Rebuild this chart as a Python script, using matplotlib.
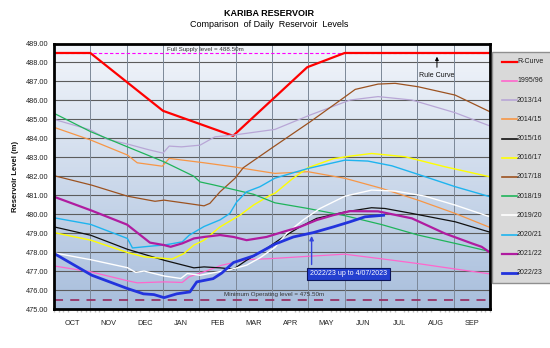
import numpy as np
import matplotlib
matplotlib.use("Agg")
import matplotlib.pyplot as plt
from matplotlib.colors import LinearSegmentedColormap
from matplotlib.lines import Line2D
from matplotlib.patches import Rectangle
from matplotlib.ticker import MultipleLocator

plt.rcParams["font.family"] = ["Liberation Sans", "DejaVu Sans"]

# Hydrological year runs October -> September; positions are in months from 1 October
month_labels = ["OCT", "NOV", "DEC", "JAN", "FEB", "MAR",
                "APR", "MAY", "JUN", "JUL", "AUG", "SEP"]
level_ticks = list(range(475, 490))

full_supply_level = 488.50
min_operating_level = 475.50

r_curve_month = [0, 1.0, 3.0, 4.93, 6.97, 8.0, 12.0]
r_curve_level = [488.5, 488.5, 485.45, 484.13, 487.75, 488.5, 488.5]

y1995_month = [0, 1.01, 2.0, 2.29, 3.03, 3.53, 3.72, 4.13, 4.6, 5.3, 6.08, 7.0,
               8.0, 9.0, 10.0, 11.0, 12.0]
y1995_level = [477.27, 476.96, 476.5, 476.38, 476.43, 476.4, 476.7, 476.96, 477.3,
               477.6, 477.67, 477.78, 477.89, 477.65, 477.4, 477.12, 476.85]

y2013_month = [0, 1.01, 1.47, 2.02, 2.6, 3.0, 3.17, 3.51, 4.02, 4.43, 4.94, 6.08,
               7.05, 8.15, 8.92, 9.85, 11.04, 12.0]
y2013_level = [485.0, 484.44, 483.94, 483.70, 483.4, 483.22, 483.59, 483.55, 483.64,
               484.08, 484.17, 484.47, 485.23, 486.02, 486.2, 486.02, 485.35, 484.65]

y2014_month = [0, 1.01, 2.02, 2.29, 2.98, 3.17, 4.13, 4.93, 6.08, 6.99, 8.01, 9.02,
               10.02, 11.04, 12.0]
y2014_level = [484.58, 483.91, 483.12, 482.71, 482.53, 482.94, 482.71, 482.5, 482.15,
               482.24, 481.89, 481.36, 480.74, 480.04, 479.3]

y2015_month = [0, 1.01, 2.02, 3.03, 3.85, 4.13, 4.57, 4.94, 5.30, 5.85, 6.31, 6.77,
               7.23, 8.01, 8.74, 9.11, 9.85, 11.04, 12.0]
y2015_level = [479.33, 478.89, 478.15, 477.57, 477.17, 477.22, 477.17, 477.1, 477.57,
               478.19, 478.8, 479.33, 479.78, 480.12, 480.34, 480.3, 480.04, 479.6, 479.05]

y2016_month = [0, 1.01, 2.02, 2.48, 3.03, 3.25, 3.58, 3.85, 4.13, 4.57, 5.12, 5.49,
               5.95, 6.08, 6.55, 6.99, 7.68, 8.15, 8.74, 9.66, 10.76, 12.0]
y2016_level = [479.03, 478.63, 477.98, 477.75, 477.67, 477.63, 477.93, 478.37, 478.63,
               479.33, 479.95, 480.48, 481.0, 481.1, 481.85, 482.45, 482.92, 483.06,
               483.2, 483.03, 482.5, 481.97]

y2017_month = [0, 1.04, 2.02, 2.78, 3.03, 3.66, 4.13, 4.29, 4.57, 4.98, 5.21, 6.04,
               7.05, 8.01, 8.29, 8.92, 9.39, 10.02, 11.04, 12.0]
y2017_level = [482.03, 481.53, 480.95, 480.68, 480.74, 480.57, 480.44, 480.57, 481.18,
               481.89, 482.45, 483.55, 484.87, 486.19, 486.58, 486.86, 486.9, 486.72,
               486.28, 485.4]

y2018_month = [0, 1.01, 2.02, 3.03, 3.85, 4.02, 4.38, 4.94, 5.49, 6.08, 6.99, 8.01,
               9.02, 10.02, 11.04, 12.0]
y2018_level = [485.32, 484.35, 483.55, 482.76, 482.0, 481.7, 481.55, 481.3, 481.05,
               480.6, 480.3, 479.92, 479.45, 478.9, 478.46, 478.03]

y2019_month = [0, 1.01, 2.02, 2.25, 2.48, 3.03, 3.49, 3.67, 4.02, 4.84, 5.30, 5.67,
               6.08, 6.41, 6.86, 7.32, 8.01, 8.74, 9.39, 10.21, 11.04, 12.0]
y2019_level = [477.96, 477.6, 477.18, 476.93, 477.0, 476.74, 476.61, 476.87, 476.78,
               477.07, 477.31, 477.7, 478.25, 479.0, 479.7, 480.3, 480.95, 481.27,
               481.22, 480.95, 480.48, 479.86]

y2020_month = [0, 1.01, 2.02, 2.16, 2.75, 3.03, 3.53, 3.72, 4.13, 4.57, 4.84, 5.03,
               5.30, 5.67, 6.08, 6.99, 8.01, 8.64, 9.30, 10.02, 11.04, 12.0]
y2020_level = [479.81, 479.46, 478.72, 478.22, 478.33, 478.37, 478.54, 478.89, 479.35,
               479.7, 480.04, 480.65, 481.18, 481.45, 481.9, 482.41, 482.85, 482.8,
               482.55, 482.1, 481.45, 480.92]

y2021_month = [0, 1.02, 2.01, 2.64, 3.03, 3.21, 3.53, 3.85, 4.13, 4.57, 4.94, 5.30,
               5.85, 6.31, 6.77, 7.23, 7.69, 8.15, 8.92, 9.85, 10.76, 11.50, 11.77, 12.0]
y2021_level = [480.92, 480.2, 479.45, 478.5, 478.37, 478.28, 478.46, 478.72, 478.8,
               478.9, 478.8, 478.63, 478.8, 479.07, 479.33, 479.69, 479.95, 480.16,
               480.15, 479.78, 478.98, 478.46, 478.28, 477.98]

y2022_month = [0, 1.04, 2.02, 2.46, 2.75, 3.03, 3.38, 3.74, 3.93, 4.38, 4.62, 4.94,
               5.49, 6.08, 6.59, 7.14, 7.69, 8.15, 8.56, 9.11]
y2022_level = [477.93, 476.78, 476.08, 475.8, 475.76, 475.6, 475.8, 475.9, 476.43,
               476.6, 476.9, 477.45, 477.8, 478.42, 478.8, 479.03, 479.33, 479.6,
               479.86, 479.95]

series = [
    ("R-Curve", r_curve_month, r_curve_level, "#ff0000", 1.6),
    ("1995/96", y1995_month, y1995_level, "#ff66cc", 0.9),
    ("2013/14", y2013_month, y2013_level, "#b8a6d6", 0.9),
    ("2014/15", y2014_month, y2014_level, "#f79646", 0.9),
    ("2015/16", y2015_month, y2015_level, "#111111", 0.9),
    ("2016/17", y2016_month, y2016_level, "#ffff00", 1.0),
    ("2017/18", y2017_month, y2017_level, "#9c5220", 0.9),
    ("2018/19", y2018_month, y2018_level, "#1fb45a", 0.9),
    ("2019/20", y2019_month, y2019_level, "#ffffff", 1.0),
    ("2020/21", y2020_month, y2020_level, "#1eb4ef", 1.0),
    ("2021/22", y2021_month, y2021_level, "#b01ca0", 1.6),
    ("2022/23", y2022_month, y2022_level, "#2233dd", 2.0),
]

fig = plt.figure(figsize=(5.5, 3.48), dpi=100)
ax = fig.add_axes([54 / 550, 1 - 309 / 348, 436 / 550, (309 - 43.5) / 348])

# Plot area background: pale at the top, blue-grey at the bottom
bg = LinearSegmentedColormap.from_list("bg", ["#a8bedc", "#f3f6fb"])
grad = np.linspace(0, 1, 256).reshape(-1, 1)
ax.imshow(grad, extent=[0, 12, 475, 489], origin="lower", aspect="auto",
          cmap=bg, zorder=0)

ax.set_xlim(0, 12)
ax.set_ylim(475, 489)

for lv in level_ticks:
    ax.axhline(lv, color="#5c5c5c", lw=0.8, zorder=1)
for m in range(1, 12):
    ax.axvline(m, color="#7c8898", lw=0.7, zorder=1)

ax.axhline(full_supply_level, color="#ff00ff", lw=0.8, ls=(0, (3, 2)), zorder=2)
ax.axhline(min_operating_level, color="#993366", lw=1.3, ls=(0, (5, 4)), zorder=2)

for name, xm, lv, col, lw in series:
    ax.plot(xm, lv, color=col, lw=lw, zorder=3, solid_capstyle="butt")

ax.text(4.16, 488.68, "Full Supply level = 488.50m", fontsize=4.5,
        ha="center", va="center", color="#333333", zorder=4)
ax.text(6.05, 475.75, "Minimum Operating level = 475.50m", fontsize=4.5,
        ha="center", va="center", color="#333333", zorder=4)

ax.text(10.54, 487.3, "Rule Curve", fontsize=5, ha="center", va="center",
        color="#111111", zorder=4)
ax.annotate("", xy=(10.54, 488.45), xytext=(10.54, 487.6),
            arrowprops=dict(arrowstyle="-|>", color="black", lw=0.7,
                            mutation_scale=5), zorder=4)

ax.annotate("", xy=(7.09, 479.0), xytext=(7.09, 477.2),
            arrowprops=dict(arrowstyle="-|>", color="#3344dd", lw=1.0,
                            mutation_scale=6), zorder=5)
ax.text(8.11, 476.85, "2022/23 up to 4/07/2023", fontsize=5, color="white",
        ha="center", va="center", zorder=6,
        bbox=dict(boxstyle="square,pad=0.4", fc="#2440d0", ec="#0c145a", lw=0.8))

ax.set_yticks(level_ticks)
ax.set_yticklabels([f"{v:.2f}" for v in level_ticks])
ax.set_xticks([i + 0.5 for i in range(12)])
ax.set_xticklabels(month_labels)
ax.xaxis.set_minor_locator(MultipleLocator(1 / 8))
ax.tick_params(axis="both", which="major", length=0, labelsize=5.3,
               labelcolor="#222222")
ax.tick_params(axis="x", which="major", pad=8)
ax.tick_params(axis="y", which="major", pad=4)
ax.tick_params(axis="x", which="minor", length=2.2, width=1.0,
               color="#bdbdbd", direction="out")
ax.set_ylabel("Reservoir Level (m)", fontsize=5.5, fontweight="bold",
              labelpad=5, color="#111111")

for sp in ax.spines.values():
    sp.set_linewidth(2)
    sp.set_color("black")
    sp.set_zorder(7)

fig.text(269 / 550, 1 - 13.5 / 348, "KARIBA RESERVOIR", fontsize=6.5,
         fontweight="bold", ha="center", va="center")
fig.text(269 / 550, 1 - 24.5 / 348, "Comparison  of Daily  Reservoir  Levels",
         fontsize=6.5, ha="center", va="center")

# Legend panel at the right edge of the figure
fig.patches.append(Rectangle((492 / 550, 1 - 283 / 348), 0.13, (283 - 51.5) / 348,
                             transform=fig.transFigure, facecolor="#d9d9d9",
                             edgecolor="#8f8f8f", lw=1.0, clip_on=False))
for i, (name, xm, lv, col, lw) in enumerate(series):
    yy = 1 - (61.7 + 19.2 * i) / 348
    fig.lines.append(Line2D([501.5 / 550, 516.5 / 550], [yy, yy],
                            transform=fig.transFigure, color=col,
                            lw=max(lw, 1.2)))
    fig.text(517 / 550, yy, name, fontsize=5, ha="left", va="center",
             color="#222222")

fig.savefig("out.png", dpi=100)
